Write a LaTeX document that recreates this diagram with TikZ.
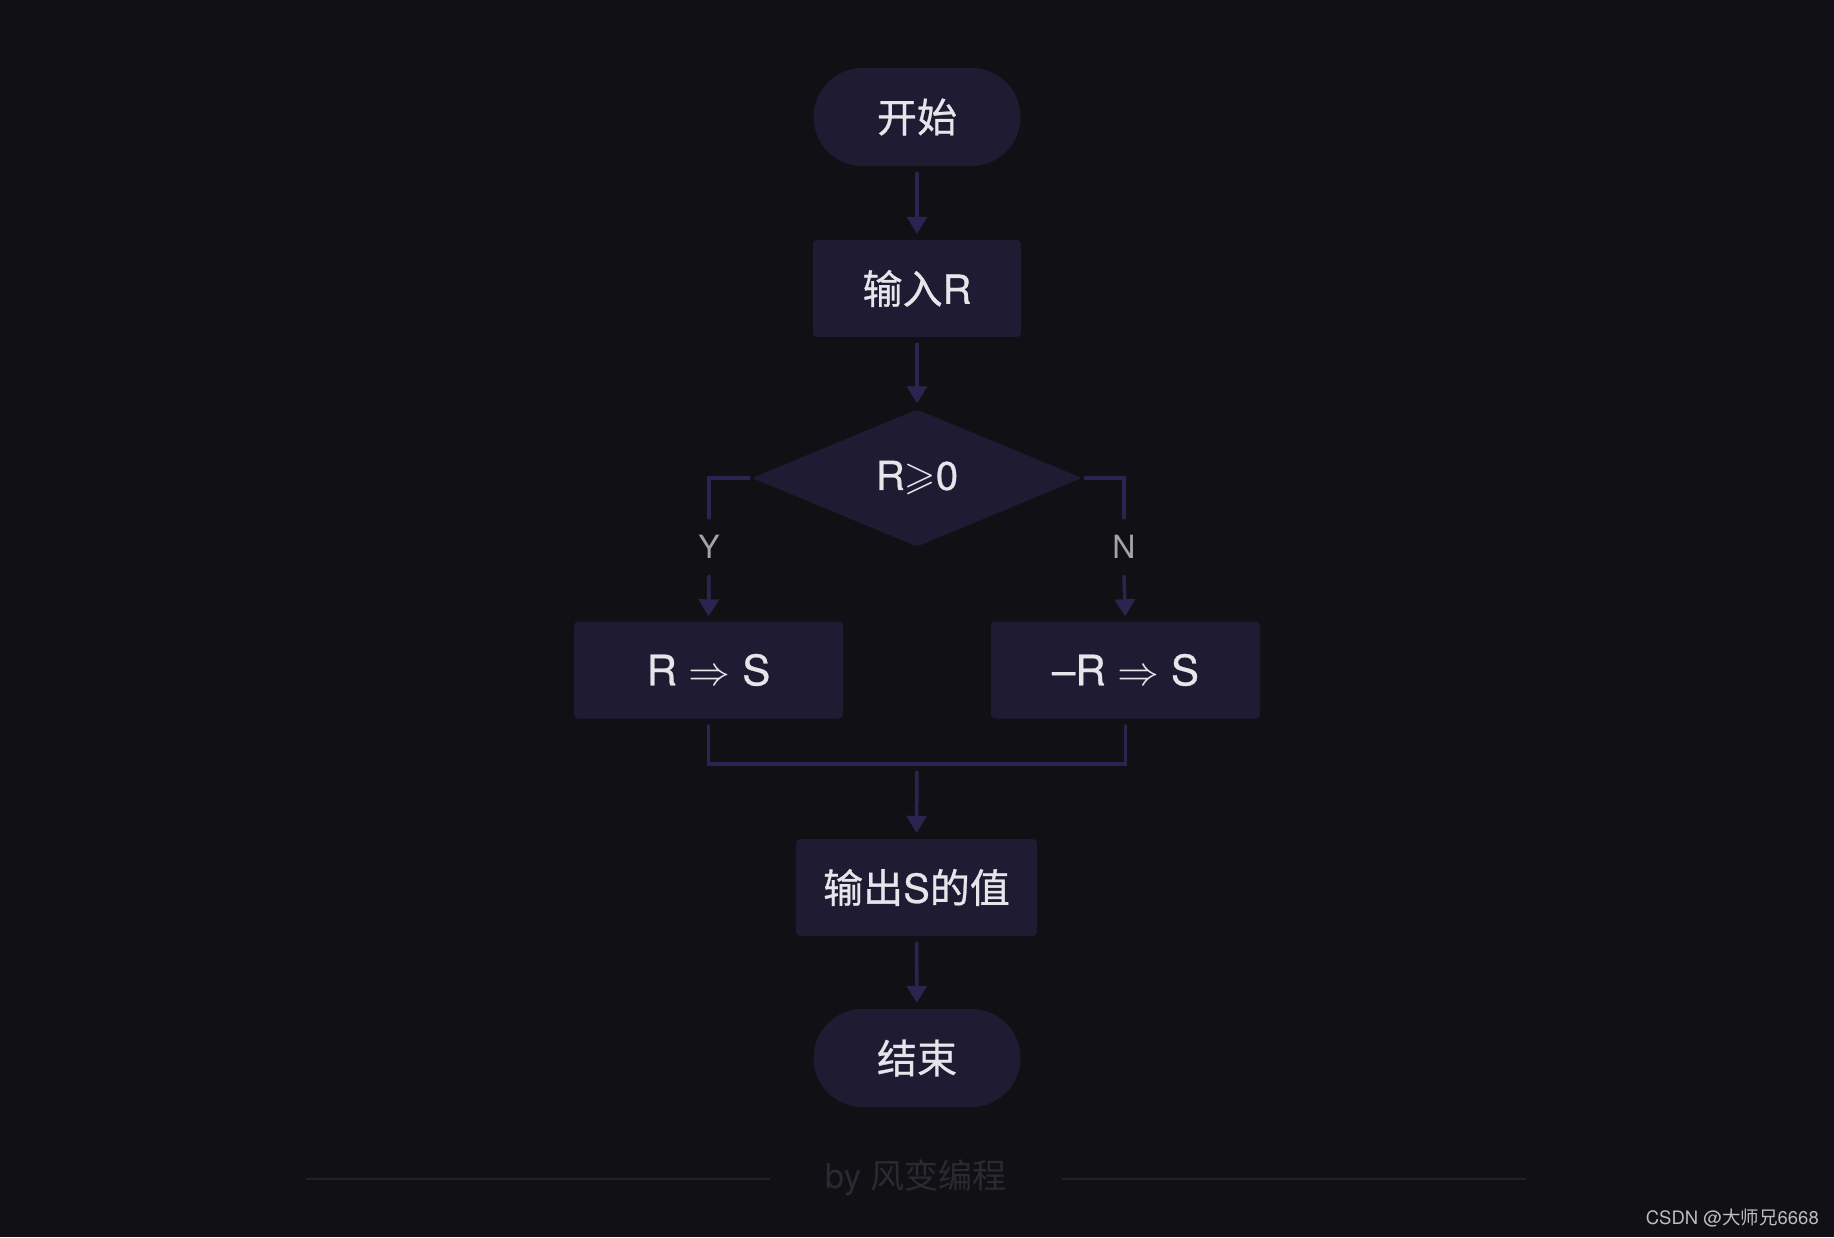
\documentclass[tikz,border=0pt]{standalone}
\usepackage{fontspec}
\usepackage{unicode-math}
\setmainfont{TeX Gyre Heros}
\newfontfamily\cjk{Noto Sans CJK SC}
\newfontfamily\cjkm{Noto Sans CJK SC}[FakeBold=0.7]
\newfontfamily\latm{TeX Gyre Heros}[FakeBold=0.7]
\usetikzlibrary{arrows.meta,shapes.geometric}
\definecolor{bg}{HTML}{111015}
\definecolor{nodefill}{HTML}{1E1B33}
\definecolor{linec}{HTML}{2A2550}
\definecolor{txt}{HTML}{E6E5EA}
\definecolor{lbl}{HTML}{A3A3A8}
\definecolor{foot}{HTML}{2B2A30}
\definecolor{footline}{HTML}{222127}
\definecolor{wm}{HTML}{BDBDC0}
\tikzset{
 base/.style={fill=nodefill, text=txt, font=\fontsize{40}{48}\selectfont\latm, inner sep=0pt},
 terminal/.style={base, rectangle, rounded corners=49pt, minimum width=207pt, minimum height=98pt},
 procbox/.style={base, rectangle, rounded corners=4pt, minimum height=97pt},
 decision/.style={base, diamond, aspect=2.4, minimum width=330pt, minimum height=137pt, rounded corners=3pt},
 conn/.style={draw=linec, line width=3.5pt, line cap=round},
 arr/.style={conn, -{Triangle[width=20pt,length=17pt]}},
 yn/.style={text=lbl, font=\fontsize{32}{38}\selectfont, minimum height=58pt, inner sep=0pt},
}
\begin{document}
\begin{tikzpicture}[x=1pt,y=-1pt]
\fill[bg] (0,0) rectangle (1834,1237);
\useasboundingbox (0,0) rectangle (1834,1237);

\node[terminal] (start) at (917,117) {\cjkm 开始};
\node[procbox, minimum width=208pt] (inp) at (917,288.5) {{\cjkm 输入}R};
\node[decision] (dec) at (917,478) {R$⩾$0};
\node[procbox, minimum width=269pt] (lb) at (708.5,670) {\fontsize{42}{48}\selectfont R $\Rightarrow$ S};
\node[procbox, minimum width=269pt] (rb) at (1125.5,670) {\fontsize{42}{48}\selectfont –R $\Rightarrow$ S};
\node[procbox, minimum width=241pt] (outp) at (916.5,887.5) {{\cjkm 输出}S{\cjkm 的值}};
\node[terminal] (stop) at (917,1058) {\cjkm 结束};

\node[yn] (yl) at (709,547) {Y};
\node[yn] (nl) at (1124,547) {N};
\coordinate (merge) at (917,764);

\draw[arr, shorten <=7pt, shorten >=6pt] (start) -- (inp);
\draw[arr, shorten <=7pt, shorten >=6pt] (inp) -- (dec);
\draw[conn, shorten <=3pt] (dec.west) -| (yl.north);
\draw[arr, shorten >=5pt] (yl.south) -- (lb.north);
\draw[conn, shorten <=3pt] (dec.east) -| (nl.north);
\draw[arr, shorten >=5pt] (nl.south) -- (rb.north);
\draw[conn, shorten <=7pt] (lb.south) |- (merge);
\draw[conn, shorten <=7pt] (rb.south) |- (merge);
\draw[arr, shorten <=8pt, shorten >=6pt] (merge) -- (outp.north);
\draw[arr, shorten <=7pt, shorten >=6pt] (outp) -- (stop);

\node[text=foot, font=\fontsize{34}{40}\selectfont] (foot) at (916,1178) {by {\cjk 风变编程}};
\coordinate (fl1) at (306,1179);
\coordinate (fl2) at (770,1179);
\coordinate (fr1) at (1062,1179);
\coordinate (fr2) at (1526,1179);
\draw[footline, line width=2pt] (fl1) -- (fl2);
\draw[footline, line width=2pt] (fr1) -- (fr2);

\node[text=wm, font=\fontsize{18.5}{22}\selectfont, anchor=east, inner sep=0pt] (wmk) at (1819,1218) {CSDN @{\cjk 大师兄}6668};
\end{tikzpicture}
\end{document}
